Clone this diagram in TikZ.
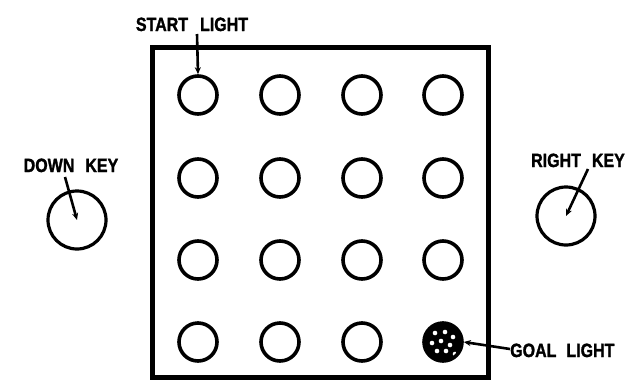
\documentclass[tikz,border=0pt]{standalone}
\usepackage{fontspec}
\setmainfont{Liberation Sans}
\newfontfamily\heavyfont{Liberation Sans}[BoldFeatures={FakeBold=1.6}]
\usetikzlibrary{arrows.meta}
\newcommand{\tallt}[1]{\scalebox{1}[1.2]{#1}}
\begin{document}
\begin{tikzpicture}[x=1pt,y=-1pt,
  lamp/.style={circle,draw=black,line width=3.6pt,minimum size=38pt,inner sep=0pt},
  keyc/.style={circle,draw=black,line width=3.2pt,minimum size=58pt,inner sep=0pt},
  lbl/.style={font=\heavyfont\bfseries\fontsize{16}{16}\selectfont,inner sep=0pt},
  ptr/.style={line width=2.6pt,-{Stealth[length=7pt,width=6pt]}}]
\useasboundingbox (0,0) rectangle (628,383);
% panel
\node[draw=black,line width=5pt,minimum width=336pt,minimum height=330pt,inner sep=0pt] (panel) at (320,212) {};
% lamps
\foreach \c/\x in {1/198,2/280,3/362,4/443}{
  \foreach \r/\y in {1/95,2/178,3/260,4/342}{
    \ifnum\c\r=44\relax\else
      \node[lamp] (l\r\c) at (\x,\y) {};
    \fi
  }
}
% goal lamp
\node[lamp,fill=black] (l44) at (443,342) {};
\begin{scope}
\clip (443,342) circle (17pt);
\foreach \dx/\dy in {-8/-9,2/-10,10/-5,-11/1,-2/-1,7/3,-6/9,3/9,12/12}{
  \fill[white] (443+\dx,342+\dy) circle (2.3pt);
}
\end{scope}
% keys
\node[keyc] (down) at (77,220) {};
\node[keyc] (right) at (566,216) {};
% labels
\node[lbl,anchor=base] (tstart) at (192,31) {\tallt{START\hspace{12pt}LIGHT}};
\node[lbl,anchor=base] (tdown) at (71,172) {\tallt{DOWN\hspace{11pt}KEY}};
\node[lbl,anchor=base] (tright) at (578,167) {\tallt{RIGHT\hspace{11pt}KEY}};
\node[lbl,anchor=base west] (tgoal) at (510,357) {\tallt{GOAL\hspace{10pt}LIGHT}};
% pointers
\coordinate (sa) at (197,34);
\coordinate (da) at (65,177);
\coordinate (ra) at (588,169);
\coordinate (ga) at (510,349);
\draw[ptr] (sa) -- (l11.north);
\draw[ptr] (da) -- (down.center);
\draw[ptr] (ra) -- (right.center);
\draw[ptr] (ga) -- (l44.east);
\end{tikzpicture}
\end{document}
